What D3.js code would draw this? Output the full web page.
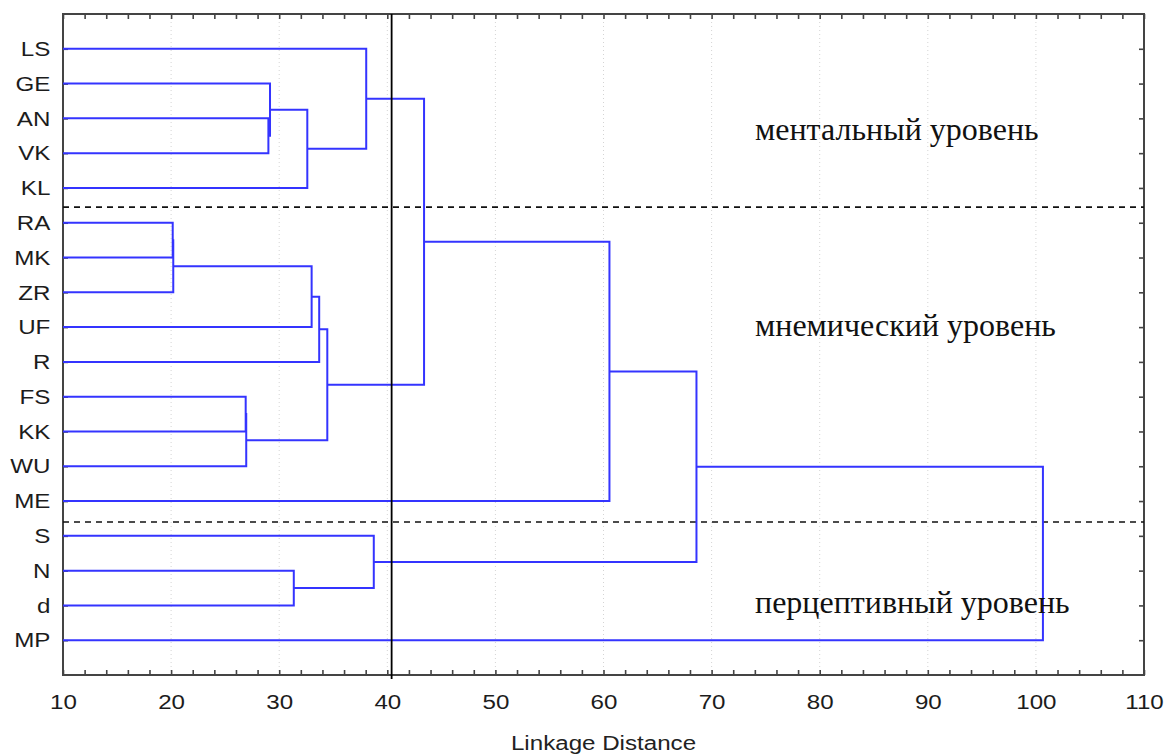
<!DOCTYPE html>
<html>
<head>
<meta charset="utf-8">
<script src="https://cdn.jsdelivr.net/npm/d3@7"></script>
<style>
  body { margin: 0; background: #fff; }
  svg { display: block; }
  .axis text { font-family: "Liberation Sans", Arial, sans-serif; font-size: 21px; fill: #1c1c1c; }
  .axis line, .axis path { stroke: #444; stroke-width: 1.6; }
</style>
</head>
<body>
<svg id="chart" width="1166" height="756"></svg>
<script>
// leaves, top to bottom
const leaves = ["LS", "GE", "AN", "VK", "KL", "RA", "MK", "ZR", "UF", "R",
                "FS", "KK", "WU", "ME", "S", "N", "d", "MP"];

// merges: [child a, child b, linkage distance]
// child index < leaves.length -> leaf, otherwise earlier merge (index - leaves.length)
const merges = [
  [2, 3, 29.0],     // 18 AN+VK
  [1, 18, 29.15],   // 19 GE
  [19, 4, 32.6],    // 20 KL
  [0, 20, 38.05],   // 21 LS
  [5, 6, 20.15],    // 22 RA+MK
  [22, 7, 20.2],    // 23 ZR
  [23, 8, 33.0],    // 24 UF
  [24, 9, 33.7],    // 25 R
  [10, 11, 26.9],   // 26 FS+KK
  [26, 12, 26.95],  // 27 WU
  [25, 27, 34.45],  // 28
  [21, 28, 43.4],   // 29
  [29, 13, 60.55],  // 30 ME
  [15, 16, 31.35],  // 31 N+d
  [14, 31, 38.75],  // 32 S
  [30, 32, 68.6],   // 33
  [33, 17, 100.65]  // 34 MP
];

const xMajor = d3.range(10, 111, 10);
const xMinor = d3.range(10, 111, 2);
const cutDistance = 40.4;
// group borders, in leaf rows (between KL/RA and ME/S)
const groupBreaks = [4.55, 13.6];
const groupNames = ["ментальный уровень", "мнемический уровень", "перцептивный уровень"];

// layout
const box = { left: 63, top: 14, right: 1144, bottom: 675 };
const stretch = 1.15;
const groupLabelPos = [[755, 140], [755, 336], [755, 613]];

const svg = d3.select("#chart");

const x = d3.scaleLinear().domain([10, 110]).range([box.left, box.right]);
const y = d3.scalePoint().domain(leaves).range([box.top, box.bottom]).padding(1);
const step = y.step();

// faint dotted grid
svg.append("g")
  .selectAll("line")
  .data(xMajor.slice(1, -1))
  .enter().append("line")
  .attr("x1", d => x(d)).attr("x2", d => x(d))
  .attr("y1", box.top).attr("y2", box.bottom)
  .attr("stroke", "#d4d4d4")
  .attr("stroke-width", 1)
  .attr("stroke-dasharray", "1,3");

// axes (ticks pointing inward)
const bottom = svg.append("g").attr("class", "axis")
  .attr("transform", `translate(0,${box.bottom})`)
  .call(d3.axisBottom(x).tickValues(xMinor).tickSize(-5).tickSizeOuter(0).tickPadding(19)
    .tickFormat(d => d % 10 === 0 ? d : ""));
bottom.selectAll("text").attr("transform", `scale(${stretch},1)`);

svg.append("g").attr("class", "axis")
  .attr("transform", `translate(${box.left},0)`)
  .call(d3.axisLeft(y).tickSize(-5).tickSizeOuter(0).tickPadding(11))
  .selectAll("text").attr("transform", `scale(${stretch},1)`);

svg.append("g").attr("class", "axis")
  .attr("transform", `translate(0,${box.top})`)
  .call(d3.axisTop(x).tickValues(xMinor).tickSize(-5).tickSizeOuter(0).tickFormat(""));

svg.append("g").attr("class", "axis")
  .attr("transform", `translate(${box.right},0)`)
  .call(d3.axisRight(y).tickSize(-5).tickSizeOuter(0).tickFormat(""));

svg.selectAll(".axis .domain").remove();

svg.append("rect")
  .attr("x", box.left).attr("y", box.top)
  .attr("width", box.right - box.left).attr("height", box.bottom - box.top)
  .attr("fill", "none").attr("stroke", "#444").attr("stroke-width", 2);

// dashed group separators
svg.append("g")
  .selectAll("line")
  .data(groupBreaks)
  .enter().append("line")
  .attr("x1", box.left).attr("x2", box.right)
  .attr("y1", d => y(leaves[0]) + d * step).attr("y2", d => y(leaves[0]) + d * step)
  .attr("stroke", "#111").attr("stroke-width", 1.6)
  .attr("stroke-dasharray", "6,5");

// dendrogram
const nodes = leaves.map(name => ({ x: x(10), y: y(name) }));
const links = [];
merges.forEach(([a, b, dist]) => {
  const na = nodes[a], nb = nodes[b], xm = x(dist);
  links.push(`M${na.x},${na.y}H${xm}V${nb.y}H${nb.x}`);
  nodes.push({ x: xm, y: (na.y + nb.y) / 2 });
});

svg.append("g")
  .selectAll("path")
  .data(links)
  .enter().append("path")
  .attr("d", d => d)
  .attr("fill", "none")
  .attr("stroke", "#3434ff")
  .attr("stroke-width", 2);

// cut line
svg.append("line")
  .attr("x1", x(cutDistance)).attr("x2", x(cutDistance))
  .attr("y1", box.top).attr("y2", box.bottom + 4)
  .attr("stroke", "#000").attr("stroke-width", 1.8);

// group labels
svg.append("g")
  .selectAll("text")
  .data(groupNames)
  .enter().append("text")
  .attr("x", (d, i) => groupLabelPos[i][0])
  .attr("y", (d, i) => groupLabelPos[i][1])
  .attr("font-family", "'Liberation Serif', 'Times New Roman', serif")
  .attr("font-size", 32)
  .attr("fill", "#111")
  .text(d => d);

// axis title
svg.append("text")
  .attr("transform", `translate(${(box.left + box.right) / 2},750) scale(${stretch},1)`)
  .attr("text-anchor", "middle")
  .attr("font-family", "'Liberation Sans', Arial, sans-serif")
  .attr("font-size", 21)
  .attr("fill", "#222")
  .text("Linkage Distance");
</script>
</body>
</html>
